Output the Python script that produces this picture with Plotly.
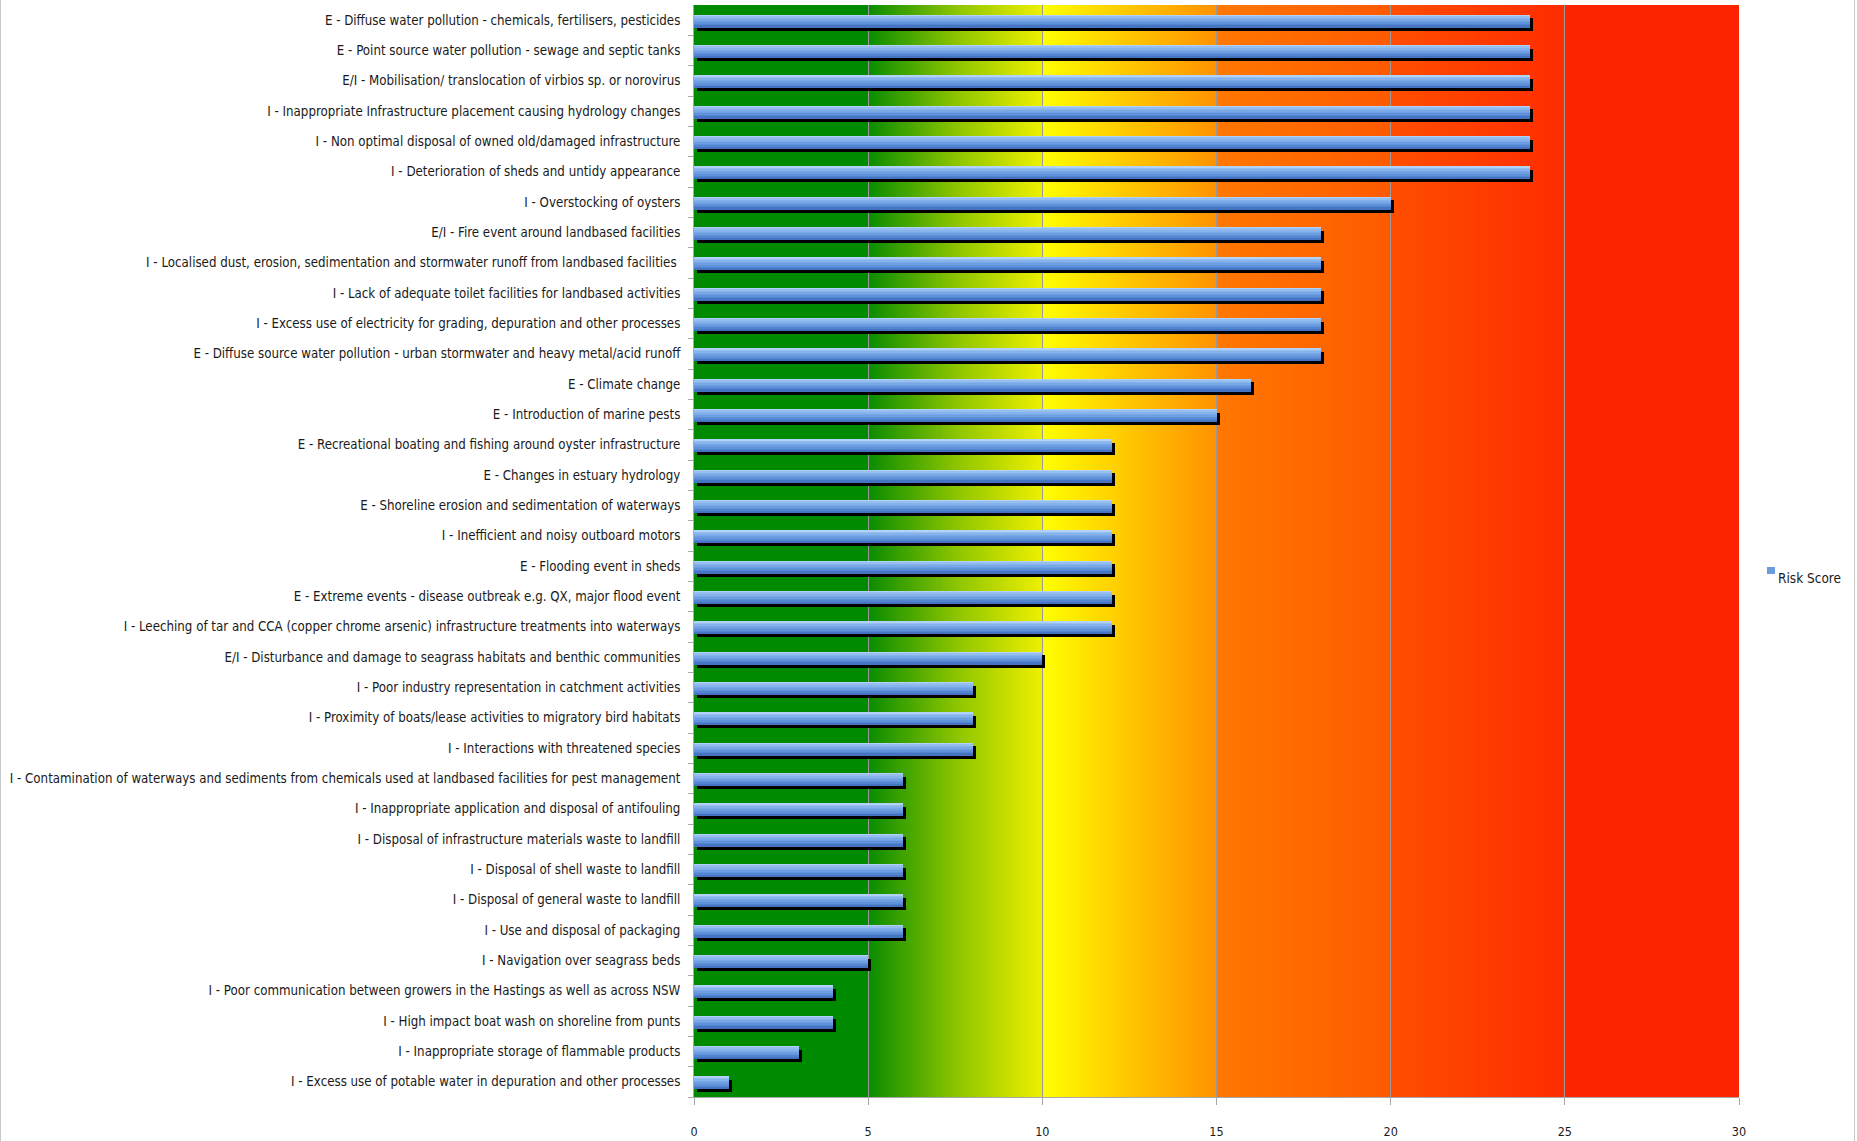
import plotly.graph_objects as go

# ---- data ----
risks = [
    "E - Diffuse water pollution - chemicals, fertilisers, pesticides",
    "E - Point source water pollution - sewage and septic tanks",
    "E/I - Mobilisation/ translocation of virbios sp. or norovirus",
    "I - Inappropriate Infrastructure placement causing hydrology changes",
    "I - Non optimal disposal of owned old/damaged infrastructure",
    "I - Deterioration of sheds and untidy appearance",
    "I - Overstocking of oysters",
    "E/I - Fire event around landbased facilities",
    "I - Localised dust, erosion, sedimentation and stormwater runoff from landbased facilities ",
    "I - Lack of adequate toilet facilities for landbased activities",
    "I - Excess use of electricity for grading, depuration and other processes",
    "E - Diffuse source water pollution - urban stormwater and heavy metal/acid runoff",
    "E - Climate change",
    "E - Introduction of marine pests",
    "E - Recreational boating and fishing around oyster infrastructure",
    "E - Changes in estuary hydrology",
    "E - Shoreline erosion and sedimentation of waterways",
    "I - Inefficient and noisy outboard motors",
    "E - Flooding event in sheds",
    "E - Extreme events - disease outbreak e.g. QX, major flood event",
    "I - Leeching of tar and CCA (copper chrome arsenic) infrastructure treatments into waterways",
    "E/I - Disturbance and damage to seagrass habitats and benthic communities",
    "I - Poor industry representation in catchment activities",
    "I - Proximity of boats/lease activities to migratory bird habitats",
    "I - Interactions with threatened species",
    "I - Contamination of waterways and sediments from chemicals used at landbased facilities for pest management",
    "I - Inappropriate application and disposal of antifouling",
    "I - Disposal of infrastructure materials waste to landfill",
    "I - Disposal of shell waste to landfill",
    "I - Disposal of general waste to landfill",
    "I - Use and disposal of packaging",
    "I - Navigation over seagrass beds",
    "I - Poor communication between growers in the Hastings as well as across NSW",
    "I - High impact boat wash on shoreline from punts",
    "I - Inappropriate storage of flammable products",
    "I - Excess use of potable water in depuration and other processes",
]
risk_score = [24, 24, 24, 24, 24, 24, 20, 18, 18, 18, 18, 18, 16, 15,
              12, 12, 12, 12, 12, 12, 12, 10, 8, 8, 8, 6, 6, 6, 6, 6, 6,
              5, 4, 4, 3, 1]
x_ticks = [0, 5, 10, 15, 20, 25, 30]
series_name = "Risk Score"

# ---- style ----
FONT = "'DejaVu Sans Condensed', 'DejaVu Sans', sans-serif"
W, H = 1857, 1141
M_L, M_R, M_T, M_B = 694, 118, 5, 44
plot_w = W - M_L - M_R
plot_h = H - M_T - M_B

# background risk bands: (x0, x1, [colour stops along the band])
bands = [
    (0, 5, ["#008a00", "#008a00"]),
    (5, 10, ["#0a8c00", "#8cc400", "#eef000"]),
    (10, 15, ["#ffff00", "#ffc600", "#ff9200"]),
    (15, 20, ["#ff7800", "#ff5a00"]),
    (20, 25, ["#ff4e00", "#ff2c00"]),
    (25, 30, ["#ff2400", "#ff2400"]),
]

# bar gradient, top to bottom
bar_strips = ["#b2d2f7", "#96bff0", "#86b3ec", "#78a8e6", "#6c9ee1",
              "#5f92da", "#5385d1", "#4574c2"]
BAR_TOP = -0.17
BAR_H = 0.41
SHADOW_DY = 0.11
SHADOW_DX = 0.09


def hex_rgb(h):
    h = h.lstrip("#")
    return [int(h[i:i + 2], 16) for i in (0, 2, 4)]


def mix(c1, c2, t):
    a, b = hex_rgb(c1), hex_rgb(c2)
    return "rgb(%d,%d,%d)" % tuple(round(a[i] + (b[i] - a[i]) * t) for i in range(3))


def band_colour(stops, t):
    n = len(stops) - 1
    k = min(int(t * n), n - 1)
    return mix(stops[k], stops[k + 1], t * n - k)


def px_x(px):
    # page pixel column -> paper x
    return (px - M_L) / plot_w


def px_y(py):
    # page pixel row -> paper y
    return (H - M_B - py) / plot_h


shapes = []
STEP = 0.05
for x0, x1, stops in bands:
    if len(set(stops)) == 1:
        shapes.append(dict(type="rect", xref="x", yref="paper", x0=x0, x1=x1,
                           y0=0, y1=1, fillcolor=stops[0], line_width=0,
                           layer="below"))
        continue
    n = int(round((x1 - x0) / STEP))
    for i in range(n):
        a = x0 + i * STEP
        shapes.append(dict(type="rect", xref="x", yref="paper", x0=a,
                           x1=min(a + STEP * 1.5, x1), y0=0, y1=1,
                           fillcolor=band_colour(stops, (i + 0.5) / n),
                           line_width=0, layer="below"))

# outer frame lines at the page edges
for px in (0.5, W - 2.5):
    shapes.append(dict(type="line", xref="paper", yref="paper",
                       x0=px_x(px), x1=px_x(px), y0=px_y(H), y1=px_y(0),
                       line=dict(color="#c8c8c8", width=1)))

# legend swatch
shapes.append(dict(type="rect", xref="paper", yref="paper",
                   x0=px_x(1767), x1=px_x(1775), y0=px_y(574), y1=px_y(567),
                   fillcolor="#6a9ce0", line_width=0))

pos = list(range(len(risks)))

fig = go.Figure()

# drop shadow behind each bar
fig.add_trace(go.Bar(
    y=pos, x=risk_score, base=SHADOW_DX, orientation="h",
    width=BAR_H, offset=BAR_TOP + SHADOW_DY,
    marker=dict(color="#000000", line_width=0),
    showlegend=False, hoverinfo="skip"))

# bars drawn as horizontal strips to give a vertical shading
strip_h = BAR_H / len(bar_strips)
for i, col in enumerate(bar_strips):
    fig.add_trace(go.Bar(
        y=pos, x=risk_score, orientation="h",
        width=strip_h * 1.08, offset=BAR_TOP + i * strip_h,
        marker=dict(color=col, line_width=0),
        name=series_name, showlegend=False,
        hovertemplate="%{customdata}: %{x}<extra></extra>",
        customdata=risks))

fig.add_annotation(
    x=px_x(1776), y=px_y(578), xref="paper", yref="paper",
    xanchor="left", yanchor="middle", showarrow=False,
    text=series_name, font=dict(family=FONT, size=13.5, color="#1a1a1a"))

fig.update_layout(
    width=W, height=H, autosize=False,
    margin=dict(l=M_L, r=M_R, t=M_T, b=M_B, autoexpand=False),
    paper_bgcolor="white", plot_bgcolor="white",
    barmode="overlay", bargap=0, showlegend=False,
    shapes=shapes,
    font=dict(family=FONT, color="#1a1a1a", size=13.2),
)

fig.update_xaxes(
    range=[0, 30], tickvals=x_ticks, ticktext=[str(v) for v in x_ticks],
    showgrid=True, gridcolor="#9a9a9a", gridwidth=1,
    zeroline=False, showline=True, linecolor="#a8a8a8", linewidth=1,
    ticks="outside", ticklen=7, tickcolor="#a8a8a8",
    ticklabelstandoff=16, automargin=False,
    tickfont=dict(family=FONT, size=12.5, color="#1a1a1a"),
    fixedrange=True)

fig.update_yaxes(
    range=[len(risks) - 0.5, -0.5], tickvals=pos, ticktext=risks,
    showgrid=False, zeroline=False, showline=True, linecolor="#a8a8a8",
    linewidth=1, ticks="", ticklabelstandoff=10, automargin=False,
    minor=dict(tickvals=[p + 0.5 for p in pos], ticks="outside", ticklen=5,
               tickcolor="#a8a8a8", showgrid=False),
    tickfont=dict(family=FONT, size=13.2, color="#1a1a1a"),
    fixedrange=True)

fig.write_html("out.html")
